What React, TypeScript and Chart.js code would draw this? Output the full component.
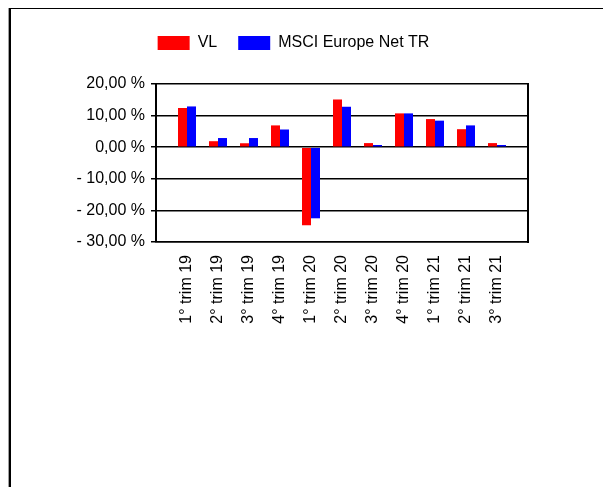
import React, { useEffect, useRef } from 'react';
import { Chart, registerables } from 'chart.js';

Chart.register(...registerables);

const categories = [
  '1° trim 19', '2° trim 19', '3° trim 19', '4° trim 19',
  '1° trim 20', '2° trim 20', '3° trim 20', '4° trim 20',
  '1° trim 21', '2° trim 21', '3° trim 21',
];
const vlValues = [12.4, 1.9, 1.25, 6.9, -24.7, 15.1, 1.3, 10.7, 8.9, 5.7, 1.3];
const msciValues = [12.9, 2.9, 2.9, 5.6, -22.5, 12.8, 0.7, 10.7, 8.4, 6.9, 0.7];
const seriesNames = ['VL', 'MSCI Europe Net TR'];
const seriesColors = ['#ff0000', '#0000ff'];
const yMin = -30;
const yMax = 20;
const yStep = 10;

const FONT = '"Liberation Sans", Arial, sans-serif';

function fmtPct(v: number): string {
  const s = Math.abs(v).toFixed(2).replace('.', ',') + ' %';
  return v < 0 ? '- ' + s : s;
}

export default function App() {
  const ref = useRef<HTMLCanvasElement | null>(null);

  useEffect(() => {
    document.documentElement.style.overflow = 'hidden';
    const canvas = ref.current;
    if (!canvas) return;
    const labels = ['', ...categories, ''];
    const chart = new Chart(canvas, {
      type: 'bar',
      data: {
        labels,
        datasets: [
          {
            label: seriesNames[0],
            data: [null, ...vlValues, null],
            backgroundColor: seriesColors[0],
            borderWidth: 0,
            categoryPercentage: 0.58,
            barPercentage: 1.0,
          },
          {
            label: seriesNames[1],
            data: [null, ...msciValues, null],
            backgroundColor: seriesColors[1],
            borderWidth: 0,
            categoryPercentage: 0.58,
            barPercentage: 1.0,
          },
        ],
      },
      options: {
        responsive: false,
        animation: false,
        layout: { padding: { top: 5, right: 31, left: 0, bottom: 0 } },
        font: { family: FONT },
        plugins: {
          tooltip: { enabled: false },
          legend: {
            position: 'top',
            labels: {
              boxWidth: 32,
              boxHeight: 14,
              padding: 21,
              color: '#000',
              font: { family: FONT, size: 16 },
            },
          },
        },
        scales: {
          x: {
            type: 'category',
            offset: false,
            grid: { display: false, drawTicks: false },
            border: { display: true, color: '#000', width: 1.5 },
            ticks: {
              autoSkip: false,
              maxRotation: 90,
              minRotation: 90,
              padding: 13,
              color: '#000',
              font: { family: FONT, size: 16 },
            },
            afterFit: (s: any) => { s.height = 245; },
          },
          xTopSpacer: {
            type: 'category',
            position: 'top',
            offset: false,
            grid: { display: false, drawTicks: false },
            border: { display: false },
            ticks: { display: false },
            afterFit: (s: any) => { s.height = 23; },
          },
          y: {
            min: yMin,
            max: yMax,
            ticks: {
              stepSize: yStep,
              padding: 6,
              color: '#000',
              font: { family: FONT, size: 16 },
              callback: (v: any) => fmtPct(Number(v)),
            },
            grid: { color: '#000', lineWidth: 1.5, tickLength: 5, drawTicks: true },
            border: { display: true, color: '#000', width: 2 },
            afterFit: (s: any) => { s.width = 145; },
          },
          y2: {
            position: 'right',
            min: yMin,
            max: yMax,
            ticks: { display: false },
            grid: { display: false, drawTicks: false },
            border: { display: true, color: '#000', width: 2 },
            afterFit: (s: any) => { s.width = 48; },
          },
        },
      },
    } as any);
    return () => chart.destroy();
  }, []);

  return (
    <div
      style={{
        marginTop: -2,
        width: 602,
        height: 500,
        boxSizing: 'border-box',
        borderTop: '1px solid #a0a0a0',
        borderLeft: '1px solid #a0a0a0',
        borderRight: '2px solid #000',
      }}
    >
      <div
        style={{
          height: '100%',
          boxSizing: 'border-box',
          borderTop: '2px solid #000',
          borderLeft: '2px solid #000',
          borderRight: '1px solid #a0a0a0',
        }}
      >
        <canvas ref={ref} width={596} height={478} style={{ display: 'block', width: 596, height: 478 }} />
      </div>
    </div>
  );
}
